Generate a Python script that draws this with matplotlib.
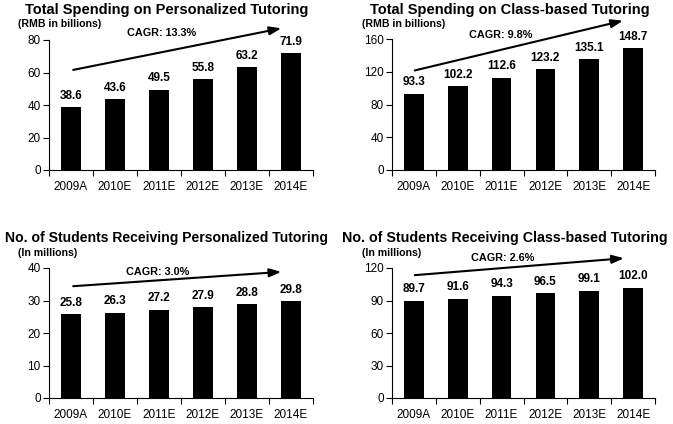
import matplotlib
matplotlib.use("Agg")
import matplotlib.pyplot as plt

plt.rcParams['font.family'] = ['Liberation Sans', 'DejaVu Sans']

years = ["2009A", "2010E", "2011E", "2012E", "2013E", "2014E"]

spend_personal = [38.6, 43.6, 49.5, 55.8, 63.2, 71.9]
spend_class = [93.3, 102.2, 112.6, 123.2, 135.1, 148.7]
students_personal = [25.8, 26.3, 27.2, 27.9, 28.8, 29.8]
students_class = [89.7, 91.6, 94.3, 96.5, 99.1, 102.0]

titles = ["Total Spending on Personalized Tutoring",
          "Total Spending on Class-based Tutoring",
          "No. of Students Receiving Personalized Tutoring",
          "No. of Students Receiving Class-based Tutoring"]
units = ["(RMB in billions)", "(RMB in billions)", "(In millions)", "(In millions)"]
cagr = ["CAGR: 13.3%", "CAGR: 9.8%", "CAGR: 3.0%", "CAGR: 2.6%"]
ymax = [80, 160, 40, 120]
ystep = [20, 40, 10, 30]
series = [spend_personal, spend_class, students_personal, students_class]

# layout (figure fractions)
W, H = 673, 424
positions = [
    (49 / W, 1 - 170 / H, 264 / W, 130 / H),
    (392 / W, 1 - 170 / H, 263 / W, 131 / H),
    (49 / W, 1 - 398 / H, 264 / W, 130 / H),
    (392 / W, 1 - 398 / H, 263 / W, 130 / H),
]
# arrow start/end as fractions of ymax, CAGR text y fraction
arrows = [
    ((0.05, 0.77), (4.78, 1.09), (2.06, 1.05)),
    ((0.02, 0.76), (4.77, 1.14), (1.98, 1.03)),
    ((0.05, 0.86), (4.78, 0.97), (1.97, 0.97)),
    ((0.02, 0.945), (4.79, 1.075), (2.03, 1.075)),
]
title_x = [25, 370, 5, 342]
title_y = [10, 10, 238, 238]
title_fs = [10.5, 10.5, 10.1, 10.3]
unit_x = [18, 362, 18, 362]
unit_y = [24, 24, 253, 253]

fig = plt.figure(figsize=(6.73, 4.24), dpi=100)
for i in range(4):
    ax = fig.add_axes(positions[i])
    vals = series[i]
    x = list(range(len(years)))
    ax.bar(x, vals, width=0.45, color="black")
    ax.set_xlim(-0.5, 5.5)
    ax.set_ylim(0, ymax[i])
    ax.set_yticks(list(range(0, ymax[i] + 1, ystep[i])))
    ax.set_xticks([k - 0.5 for k in range(7)])
    ax.set_xticklabels([])
    ax.set_xticks(x, minor=True)
    ax.set_xticklabels(years, minor=True, fontsize=8.5)
    ax.tick_params(axis='x', which='minor', length=0, pad=8)
    ax.tick_params(axis='x', which='major', length=4, width=0.8, direction='out')
    ax.tick_params(axis='y', length=4, width=0.8, labelsize=8.5, pad=2)
    for s in ["top", "right"]:
        ax.spines[s].set_visible(False)
    for s in ["left", "bottom"]:
        ax.spines[s].set_linewidth(0.8)
    for xi, v in zip(x, vals):
        ax.annotate(f"{v:.1f}", (xi, v), xytext=(0, 4), textcoords="offset points",
                    ha="center", va="bottom", fontsize=8.5, fontweight="bold")
    (x0, y0), (x1, y1), (tx, ty) = arrows[i]
    m = ymax[i]
    ax.annotate("", xy=(x1, y1 * m), xytext=(x0, y0 * m), annotation_clip=False,
                arrowprops=dict(arrowstyle="-|>,head_length=0.7,head_width=0.25",
                                color="black", lw=1.5, shrinkA=0, shrinkB=0))
    ax.text(tx, ty * m, cagr[i], ha="center", va="center", fontsize=7.8,
            fontweight="bold", clip_on=False)
    fig.text(title_x[i] / W, 1 - title_y[i] / H, titles[i], ha="left", va="center",
             fontsize=title_fs[i], fontweight="bold")
    fig.text(unit_x[i] / W, 1 - unit_y[i] / H, units[i], ha="left", va="center",
             fontsize=7.6, fontweight="bold")

fig.savefig("out.png", dpi=100)
